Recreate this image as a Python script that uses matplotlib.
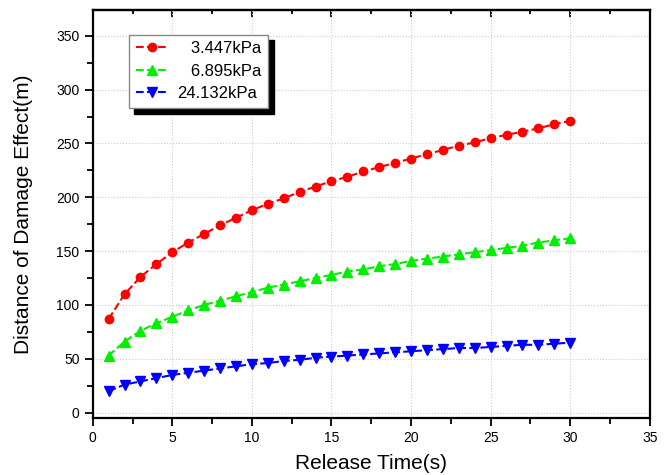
import numpy as np
import matplotlib.pyplot as plt
from matplotlib.ticker import MultipleLocator

plt.rcParams['font.family'] = ['Liberation Sans', 'DejaVu Sans']

# data
t = list(range(1, 31))
p_3447 = [87, 110, 126, 138, 149, 158, 166, 174, 181, 188, 194, 199, 205, 210, 215,
          219, 224, 228, 232, 236, 240, 244, 248, 251, 255, 258, 261, 264, 268, 271]
p_6895 = [53, 66, 76, 83, 89, 95, 100, 104, 108, 112, 116, 119, 122, 125, 128,
          131, 133, 136, 138, 141, 143, 145, 147, 149, 151, 153, 155, 158, 160, 162]
p_24132 = [20, 26, 29, 32, 35, 37, 39, 41, 43, 45, 46, 48, 49, 51, 52,
           53, 54, 55, 56, 57, 58, 59, 60, 60, 61, 62, 63, 63, 64, 65]
labels = ['   3.447kPa', '   6.895kPa', '24.132kPa']

fig = plt.figure(figsize=(6.72, 4.75), dpi=100)
ax = fig.add_axes([0.138, 0.12, 0.829, 0.859])

ax.plot(t, p_3447, '--', color='#ff0000', marker='o', ms=6, lw=1.5, label=labels[0])
ax.plot(t, p_6895, '--', color='#00ee00', marker='^', ms=7, lw=1.5, label=labels[1])
ax.plot(t, p_24132, '--', color='#0000ff', marker='v', ms=7, lw=1.5, label=labels[2])

ax.set_xlim(0, 35)
ax.set_ylim(-5, 374)
ax.xaxis.set_major_locator(MultipleLocator(5))
ax.xaxis.set_minor_locator(MultipleLocator(2.5))
ax.yaxis.set_major_locator(MultipleLocator(50))
ax.yaxis.set_minor_locator(MultipleLocator(25))
ax.grid(True, which='major', ls=':', color='#cccccc', lw=0.8)

for s in ax.spines.values():
    s.set_linewidth(1.6)
ax.tick_params(which='both', direction='out', width=1.3, labelsize=10, top=False, right=False)
ax.tick_params(which='major', length=6)
ax.tick_params(which='minor', length=4)

# inward ticks on the top edge
sec = ax.secondary_xaxis('top')
sec.xaxis.set_major_locator(MultipleLocator(5))
sec.xaxis.set_minor_locator(MultipleLocator(2.5))
sec.tick_params(which='both', direction='in', width=1.3, labeltop=False)
sec.tick_params(which='major', length=5)
sec.tick_params(which='minor', length=3)
sec.spines['top'].set_linewidth(1.6)

ax.set_xlabel('Release Time(s)', fontsize=15, labelpad=6)
ax.set_ylabel('Distance of Damage Effect(m)', fontsize=15, labelpad=17)

leg = ax.legend(loc='upper left', bbox_to_anchor=(0.05, 0.96), fontsize=12,
                frameon=True, fancybox=False, edgecolor='#888888', framealpha=1,
                shadow={'color': 'black', 'alpha': 1, 'ox': 4, 'oy': -4},
                handlelength=2.0, handletextpad=0.5, borderpad=0.4, labelspacing=0.45)
for txt in leg.get_texts():
    txt.set_ha('right')
leg._legend_box.align = 'right'

fig.savefig('out.png', dpi=100)
